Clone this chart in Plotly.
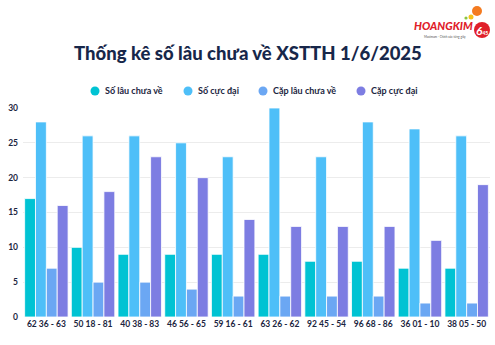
import plotly.graph_objects as go

categories = ["62 36 - 63", "50 18 - 81", "40 38 - 83", "46 56 - 65", "59 16 - 61",
              "63 26 - 62", "92 45 - 54", "96 68 - 86", "36 01 - 10", "38 05 - 50"]
so_lau_chua_ve = [17, 10, 9, 9, 9, 9, 8, 8, 7, 7]
so_cuc_dai = [28, 26, 26, 25, 23, 30, 23, 28, 27, 26]
cap_lau_chua_ve = [7, 5, 5, 4, 3, 3, 3, 3, 2, 2]
cap_cuc_dai = [16, 18, 23, 20, 14, 13, 13, 13, 11, 19]

series_names = ["Số lâu chưa về", "Số cực đại", "Cặp lâu chưa về", "Cặp cực đại"]
series_values = [so_lau_chua_ve, so_cuc_dai, cap_lau_chua_ve, cap_cuc_dai]
series_colors = ["#00C3D3", "#4EBFF8", "#6BA7F3", "#7D7DE2"]

W, H = 495, 345
ML, MR, MT, MB = 23, 5, 108, 28
PW, PH = W - ML - MR, H - MT - MB


def px(x):
    # page pixel -> paper x
    return (x - ML) / PW


def py(y):
    # page pixel -> paper y
    return (H - MB - y) / PH


TEXT = "#1b2540"

fig = go.Figure()
for name, vals, color in zip(series_names, series_values, series_colors):
    fig.add_trace(go.Bar(x=categories, y=vals, name=name, marker_color=color,
                         marker_line_color="white", marker_line_width=0.8,
                         showlegend=False))

fig.update_layout(
    width=W, height=H,
    margin=dict(l=ML, r=MR, t=MT, b=MB),
    paper_bgcolor="white", plot_bgcolor="white",
    barmode="group", bargap=0.07, bargroupgap=0,
    font=dict(family="Lato", color=TEXT),
    showlegend=False,
    xaxis=dict(showgrid=False, ticks="", showline=False,
               tickfont=dict(size=8.5, color=TEXT, weight="bold")),
    yaxis=dict(range=[0, 30], dtick=5, showgrid=True, gridcolor="#ececec",
               gridwidth=1, zeroline=False, ticks="", ticklabelstandoff=4,
               tickfont=dict(size=8.5, color=TEXT, weight="bold")),
)

# title
fig.add_annotation(text="Thống kê số lâu chưa về XSTTH 1/6/2025",
                   xref="paper", yref="paper", x=px(248), y=py(53),
                   xanchor="center", yanchor="middle", showarrow=False,
                   font=dict(size=18.5, color="#17274a", family="Lato", weight=900))

# legend row: circle marker + label for each series
legend_circles = [95, 188, 263, 361]
for cx, name, color in zip(legend_circles, series_names, series_colors):
    r = 4.5
    fig.add_shape(type="circle", xref="paper", yref="paper",
                  x0=px(cx - r), x1=px(cx + r), y0=py(91 + r), y1=py(91 - r),
                  fillcolor=color, line_width=0)
    fig.add_annotation(text=name, xref="paper", yref="paper",
                       x=px(cx + 8), y=py(91), xanchor="left", yanchor="middle",
                       showarrow=False,
                       font=dict(size=9, color=TEXT, family="Lato", weight="bold"))

# brand logo in the top-right corner
fig.add_annotation(text="<i>HOANGKIM</i>", xref="paper", yref="paper",
                   x=px(474), y=py(26), xanchor="right", yanchor="middle",
                   showarrow=False, borderpad=0,
                   font=dict(size=11, color="#e0202a", family="Lato", weight=900))
fig.add_annotation(text="Maximum - Chính xác từng giây", xref="paper", yref="paper",
                   x=px(467), y=py(36.5), xanchor="right", yanchor="middle",
                   showarrow=False, borderpad=0,
                   font=dict(size=3, color="#555", family="Lato"))
fig.add_shape(type="circle", xref="paper", yref="paper",
              x0=px(474), x1=px(490), y0=py(38), y1=py(22),
              fillcolor="#e0202a", line_width=0)
fig.add_annotation(text="<b><i>6</i></b><span style='font-size:5px'><b>45</b></span>",
                   xref="paper", yref="paper", x=px(482), y=py(30),
                   xanchor="center", yanchor="middle", showarrow=False,
                   font=dict(size=12, color="white", family="Lato"))
for cx, cy, r, col in [(477, 11, 5, "#f47b20"), (471, 17, 2.5, "#f7c21a"),
                       (466, 18, 1.6, "#8cc63f")]:
    fig.add_shape(type="circle", xref="paper", yref="paper",
                  x0=px(cx - r), x1=px(cx + r), y0=py(cy + r), y1=py(cy - r),
                  fillcolor=col, line_width=0)

fig.write_html("out.html")
